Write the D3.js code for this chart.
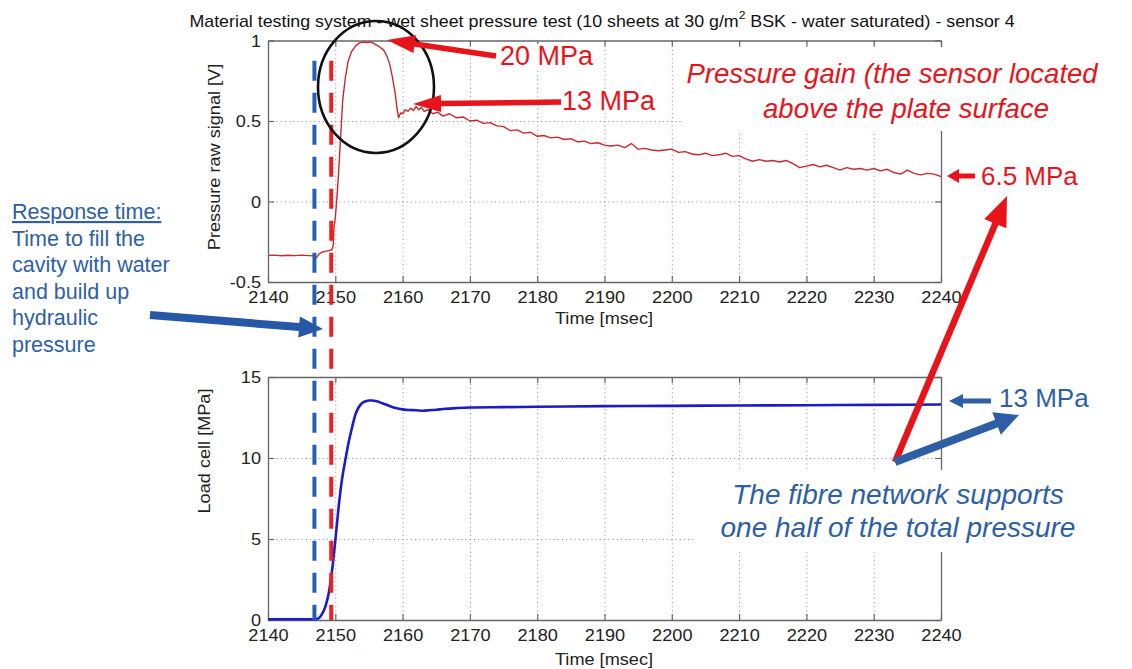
<!DOCTYPE html>
<html>
<head>
<meta charset="utf-8">
<script src="https://cdn.jsdelivr.net/npm/d3@7"></script>
<style>
  html, body { margin: 0; padding: 0; background: #fff; }
  svg { display: block; font-family: Arial, "Liberation Sans", Helvetica, sans-serif; }
</style>
</head>
<body>
<svg id="chart" width="1132" height="669"></svg>
<script>
// ---- data -------------------------------------------------------------
const timeTicks = [2140, 2150, 2160, 2170, 2180, 2190, 2200, 2210, 2220, 2230, 2240];
const pressureTicks = [-0.5, 0, 0.5, 1];
const loadTicks = [0, 5, 10, 15];

// sensor 4 raw pressure signal [V]
const pressureTime = [
  2140, 2141, 2142, 2143, 2144, 2145, 2146, 2146.8, 2147.2, 2147.5, 2148, 2148.5, 2149, 2149.5,
  2149.7, 2149.8, 2150.0, 2150.2, 2150.4, 2150.6, 2150.9, 2151.1, 2151.5, 2151.9, 2152.4, 2153.0,
  2153.6, 2154.2, 2154.8, 2155.4, 2156.0, 2156.6, 2157.2, 2157.7, 2158.1, 2158.5, 2158.9, 2159.2,
  2159.4, 2159.7, 2160.0, 2160.4, 2160.8, 2161.2, 2161.6, 2162.0, 2162.4, 2162.8, 2163.2, 2163.8,
  2164.5, 2165.2, 2166, 2167, 2168, 2169, 2170, 2171, 2172, 2173, 2174, 2175, 2176, 2177, 2178,
  2179, 2180, 2181, 2182, 2183, 2184, 2185, 2186, 2187, 2188, 2189, 2190, 2191, 2192, 2193, 2194,
  2195, 2196, 2197, 2198, 2199, 2200, 2201, 2202, 2203, 2204, 2205, 2206, 2207, 2208, 2209, 2210,
  2211, 2212, 2213, 2214, 2215, 2216, 2217, 2218, 2219, 2220, 2221, 2222, 2223, 2224, 2225, 2226,
  2227, 2228, 2229, 2230, 2231, 2232, 2233, 2234, 2235, 2236, 2237, 2238, 2239, 2240
];
const pressureVolts = [
  -0.335, -0.333, -0.337, -0.334, -0.336, -0.333, -0.336, -0.338, -0.35, -0.33, -0.315, -0.31, -0.305, -0.30,
  -0.27, -0.16, -0.10, 0.0, 0.12, 0.26, 0.48, 0.63, 0.77, 0.87, 0.93, 0.965,
  0.985, 0.99, 0.988, 0.99, 0.975, 0.96, 0.94, 0.90, 0.85, 0.77, 0.67, 0.57,
  0.52, 0.55, 0.545, 0.57, 0.56, 0.58, 0.565, 0.59, 0.57, 0.585, 0.56, 0.57,
  0.545, 0.555, 0.53, 0.545, 0.52, 0.525, 0.50, 0.505, 0.485, 0.49, 0.47, 0.465, 0.44, 0.445, 0.425,
  0.43, 0.405, 0.41, 0.395, 0.40, 0.385, 0.39, 0.37, 0.375, 0.36, 0.365, 0.35, 0.345, 0.35, 0.335, 0.36,
  0.325, 0.33, 0.32, 0.315, 0.32, 0.325, 0.305, 0.31, 0.295, 0.29, 0.30, 0.285, 0.29, 0.30, 0.28, 0.285,
  0.265, 0.25, 0.26, 0.25, 0.255, 0.245, 0.255, 0.235, 0.21, 0.22, 0.23, 0.215, 0.225, 0.21, 0.195, 0.21,
  0.20, 0.205, 0.195, 0.205, 0.19, 0.20, 0.18, 0.17, 0.195, 0.175, 0.165, 0.175, 0.17, 0.155
];

// load cell [MPa]
const loadTime = [
  2140, 2147, 2147.5, 2148, 2148.5, 2149, 2149.5, 2150, 2150.5, 2151, 2151.5, 2152, 2152.5, 2153,
  2153.5, 2154, 2154.5, 2155, 2155.5, 2156, 2157, 2158, 2159, 2160, 2161, 2162, 2163, 2164, 2165,
  2166, 2168, 2170, 2175, 2180, 2190, 2200, 2210, 2220, 2230, 2240
];
const loadMPa = [
  0.05, 0.05, 0.1, 0.35, 0.8, 1.6, 3.0, 4.9, 7.0, 8.7, 9.9, 11.0, 11.9, 12.7,
  13.15, 13.4, 13.5, 13.55, 13.55, 13.52, 13.38, 13.22, 13.08, 13.0, 12.96, 12.95, 12.92, 12.95, 12.98,
  13.02, 13.08, 13.12, 13.14, 13.16, 13.2, 13.22, 13.24, 13.26, 13.28, 13.3
];

// dashed markers: start of load rise and start of pressure rise [msec]
const markerTimes = [2146.9, 2149.4];
const markerColors = ["#2360ad", "#ea2026"];

// ---- layout -------------------------------------------------------------
const svg = d3.select("#chart");
const W = 1132, H = 669;
const plotL = 268, plotR = 941;
const top1 = 40.5, bot1 = 282;
const top2 = 377, bot2 = 620;
const SX = 1.1;            // axis fonts run a little wide
const RED = "#e8141c", BLUE = "#2e5fa6";

svg.append("rect").attr("width", W).attr("height", H).attr("fill", "#fff");

const x = d3.scaleLinear().domain([2140, 2240]).range([plotL, plotR]);
const yP = d3.scaleLinear().domain([-0.5, 1]).range([bot1, top1]);
const yL = d3.scaleLinear().domain([0, 15]).range([bot2, top2]);

function txt(parent, px, py, s, o = {}) {
  const t = parent.append("text")
    .attr("transform", `translate(${px},${py}) rotate(${o.rot || 0}) scale(${o.sx || 1},1)`)
    .attr("text-anchor", o.anchor || "middle")
    .attr("dominant-baseline", o.baseline || "auto")
    .attr("font-size", o.size || 16)
    .attr("fill", o.fill || "#222")
    .text(s);
  if (o.italic) t.attr("font-style", "italic");
  if (o.underline) t.attr("text-decoration", "underline");
  return t;
}

function panel(yScale, yTicks, y0, y1) {
  const g = svg.append("g");
  const h = y1 - y0;
  // dotted grid
  g.append("g").attr("transform", `translate(0,${y1})`)
    .call(d3.axisBottom(x).tickValues(timeTicks.slice(1, -1)).tickSize(-h).tickFormat(""))
    .call(a => a.select(".domain").remove())
    .selectAll("line").attr("stroke", "#9a9a9a").attr("stroke-dasharray", "1.2,3");
  g.append("g").attr("transform", `translate(${plotL},0)`)
    .call(d3.axisLeft(yScale).tickValues(yTicks.slice(1, -1)).tickSize(-(plotR - plotL)).tickFormat(""))
    .call(a => a.select(".domain").remove())
    .selectAll("line").attr("stroke", "#9a9a9a").attr("stroke-dasharray", "1.2,3");
  // frame with inward ticks
  const axB = g.append("g").attr("transform", `translate(0,${y1})`)
    .call(d3.axisBottom(x).tickValues(timeTicks).tickSizeInner(-6).tickSizeOuter(0).tickFormat(d => String(d)));
  const axT = g.append("g").attr("transform", `translate(0,${y0})`)
    .call(d3.axisTop(x).tickValues(timeTicks).tickSizeInner(-6).tickSizeOuter(0).tickFormat(""));
  const axLft = g.append("g").attr("transform", `translate(${plotL},0)`)
    .call(d3.axisLeft(yScale).tickValues(yTicks).tickSizeInner(-6).tickSizeOuter(0).tickFormat(d => String(d)));
  const axR = g.append("g").attr("transform", `translate(${plotR},0)`)
    .call(d3.axisRight(yScale).tickValues(yTicks).tickSizeInner(-6).tickSizeOuter(0).tickFormat(""));
  [axB, axT, axLft, axR].forEach(a => {
    a.select(".domain").attr("stroke", "#666").attr("stroke-width", 1.3);
    a.selectAll(".tick line").attr("stroke", "#666").attr("stroke-width", 1.2);
    a.selectAll("text").attr("font-family", null).attr("font-size", 16.5).attr("fill", "#222");
  });
  axB.selectAll("text").attr("y", 0).attr("dy", null)
    .attr("dominant-baseline", "central")
    .attr("transform", `translate(0,15) scale(${SX},1)`);
  axLft.selectAll("text").attr("x", 0).attr("dy", null)
    .attr("dominant-baseline", "central")
    .attr("transform", `translate(-7,0) scale(${SX},1)`);
  return g;
}

const g1 = panel(yP, pressureTicks, top1, bot1);
const g2 = panel(yL, loadTicks, top2, bot2);

// titles and axis labels
const title = svg.append("text")
  .attr("transform", `translate(602,21) scale(${SX},1)`)
  .attr("text-anchor", "middle").attr("dominant-baseline", "central")
  .attr("font-size", 16.2).attr("fill", "#111");
title.append("tspan").text("Material testing system - wet sheet pressure test (10 sheets at 30 g/m");
title.append("tspan").attr("font-size", 11).attr("dy", -6).text("2");
title.append("tspan").attr("dy", 6).text(" BSK - water saturated) - sensor 4");

txt(svg, 604, 318, "Time [msec]", { size: 16.5, sx: SX, baseline: "central" });
txt(svg, 604, 659, "Time [msec]", { size: 16.5, sx: SX, baseline: "central" });
txt(svg, 214, 157, "Pressure raw signal [V]", { size: 16.5, sx: SX, rot: -90, baseline: "central" });
txt(svg, 204, 451, "Load cell [MPa]", { size: 16.5, sx: SX, rot: -90, baseline: "central" });

// signal curves
const pressurePts = pressureTime.map((t, i) => [t, pressureVolts[i]]);
const loadPts = loadTime.map((t, i) => [t, loadMPa[i]]);

g1.append("path").datum(pressurePts)
  .attr("fill", "none").attr("stroke", "#c62a30").attr("stroke-width", 1.4)
  .attr("stroke-linejoin", "round")
  .attr("d", d3.line().x(d => x(d[0])).y(d => yP(d[1])));

g2.append("path").datum(loadPts)
  .attr("fill", "none").attr("stroke", "#1c1cc4").attr("stroke-width", 2.6)
  .attr("d", d3.line().curve(d3.curveMonotoneX).x(d => x(d[0])).y(d => yL(d[1])));

// dashed event markers spanning both panels
svg.append("g").selectAll("line").data(markerTimes).join("line")
  .attr("x1", d => x(d)).attr("x2", d => x(d))
  .attr("y1", yP(0.875)).attr("y2", yL(0))
  .attr("stroke", (d, i) => markerColors[i]).attr("stroke-width", 4)
  .attr("stroke-dasharray", "20,12");

// ---- annotations ----------------------------------------------------------
function arrow(parent, x1, y1, x2, y2, sw, hl, hw, fill) {
  const dx = x2 - x1, dy = y2 - y1, L = Math.hypot(dx, dy);
  const ux = dx / L, uy = dy / L, px = -uy, py = ux;
  const bx = x2 - ux * hl, by = y2 - uy * hl;
  const p = [
    [x1 + px * sw / 2, y1 + py * sw / 2],
    [bx + px * sw / 2, by + py * sw / 2],
    [bx + px * hw / 2, by + py * hw / 2],
    [x2, y2],
    [bx - px * hw / 2, by - py * hw / 2],
    [bx - px * sw / 2, by - py * sw / 2],
    [x1 - px * sw / 2, y1 - py * sw / 2]
  ];
  parent.append("polygon").attr("points", p.map(q => q.join(",")).join(" ")).attr("fill", fill);
}

const ann = svg.append("g");

// white boxes behind the explanatory notes
ann.append("rect").attr("x", 682).attr("y", 47).attr("width", 430).attr("height", 84).attr("fill", "#fff");
ann.append("rect").attr("x", 696).attr("y", 470).attr("width", 400).attr("height", 82).attr("fill", "#fff");

// highlight of the pressure peak
ann.append("ellipse").attr("cx", 376).attr("cy", 87).attr("rx", 58).attr("ry", 66)
  .attr("fill", "none").attr("stroke", "#111").attr("stroke-width", 2.6);

function boxedLabel(px, py, s, o) {
  const t = txt(ann, px, py, s, o);
  const b = t.node().getBBox();
  ann.insert("rect", () => t.node())
    .attr("x", px + b.x).attr("y", py + b.y + 3).attr("width", b.width).attr("height", b.height - 6)
    .attr("fill", "#fff");
  return t;
}

boxedLabel(500, 65, "20 MPa", { size: 27, fill: RED, anchor: "start" });
arrow(ann, 496, 56, 387, 40, 5.5, 28, 18, RED);
boxedLabel(562, 110, "13 MPa", { size: 27, fill: RED, anchor: "start" });
arrow(ann, 561, 102, 413, 104, 5.5, 28, 17, RED);

txt(ann, 892, 83, "Pressure gain (the sensor located", { size: 27.5, fill: RED, italic: true });
txt(ann, 906, 118, "above the plate surface", { size: 27.5, fill: RED, italic: true });

txt(ann, 981, 185, "6.5 MPa", { size: 26, fill: RED, anchor: "start" });
arrow(ann, 975, 176, 947, 176, 5, 12, 14, RED);

txt(ann, 999, 407, "13 MPa", { size: 26, fill: BLUE, anchor: "start" });
arrow(ann, 991, 401, 949, 401, 5, 14, 14, BLUE);

txt(ann, 898, 504, "The fibre network supports", { size: 28, fill: BLUE, italic: true });
txt(ann, 898, 537, "one half of the total pressure", { size: 28, fill: BLUE, italic: true });

arrow(ann, 895, 462, 1007, 196, 6.5, 30, 24, RED);
arrow(ann, 895, 462, 1019, 415, 8, 24, 24, BLUE);

// response time note
const notes = ["Time to fill the", "cavity with water", "and build up", "hydraulic", "pressure"];
txt(ann, 12, 219, "Response time:", { size: 21.5, fill: BLUE, anchor: "start", underline: true });
notes.forEach((s, i) => txt(ann, 12, 245.5 + i * 26.6, s, { size: 21.5, fill: BLUE, anchor: "start" }));
arrow(ann, 150, 315, 323, 329, 8, 24, 21, "#2658a6");
</script>
</body>
</html>
